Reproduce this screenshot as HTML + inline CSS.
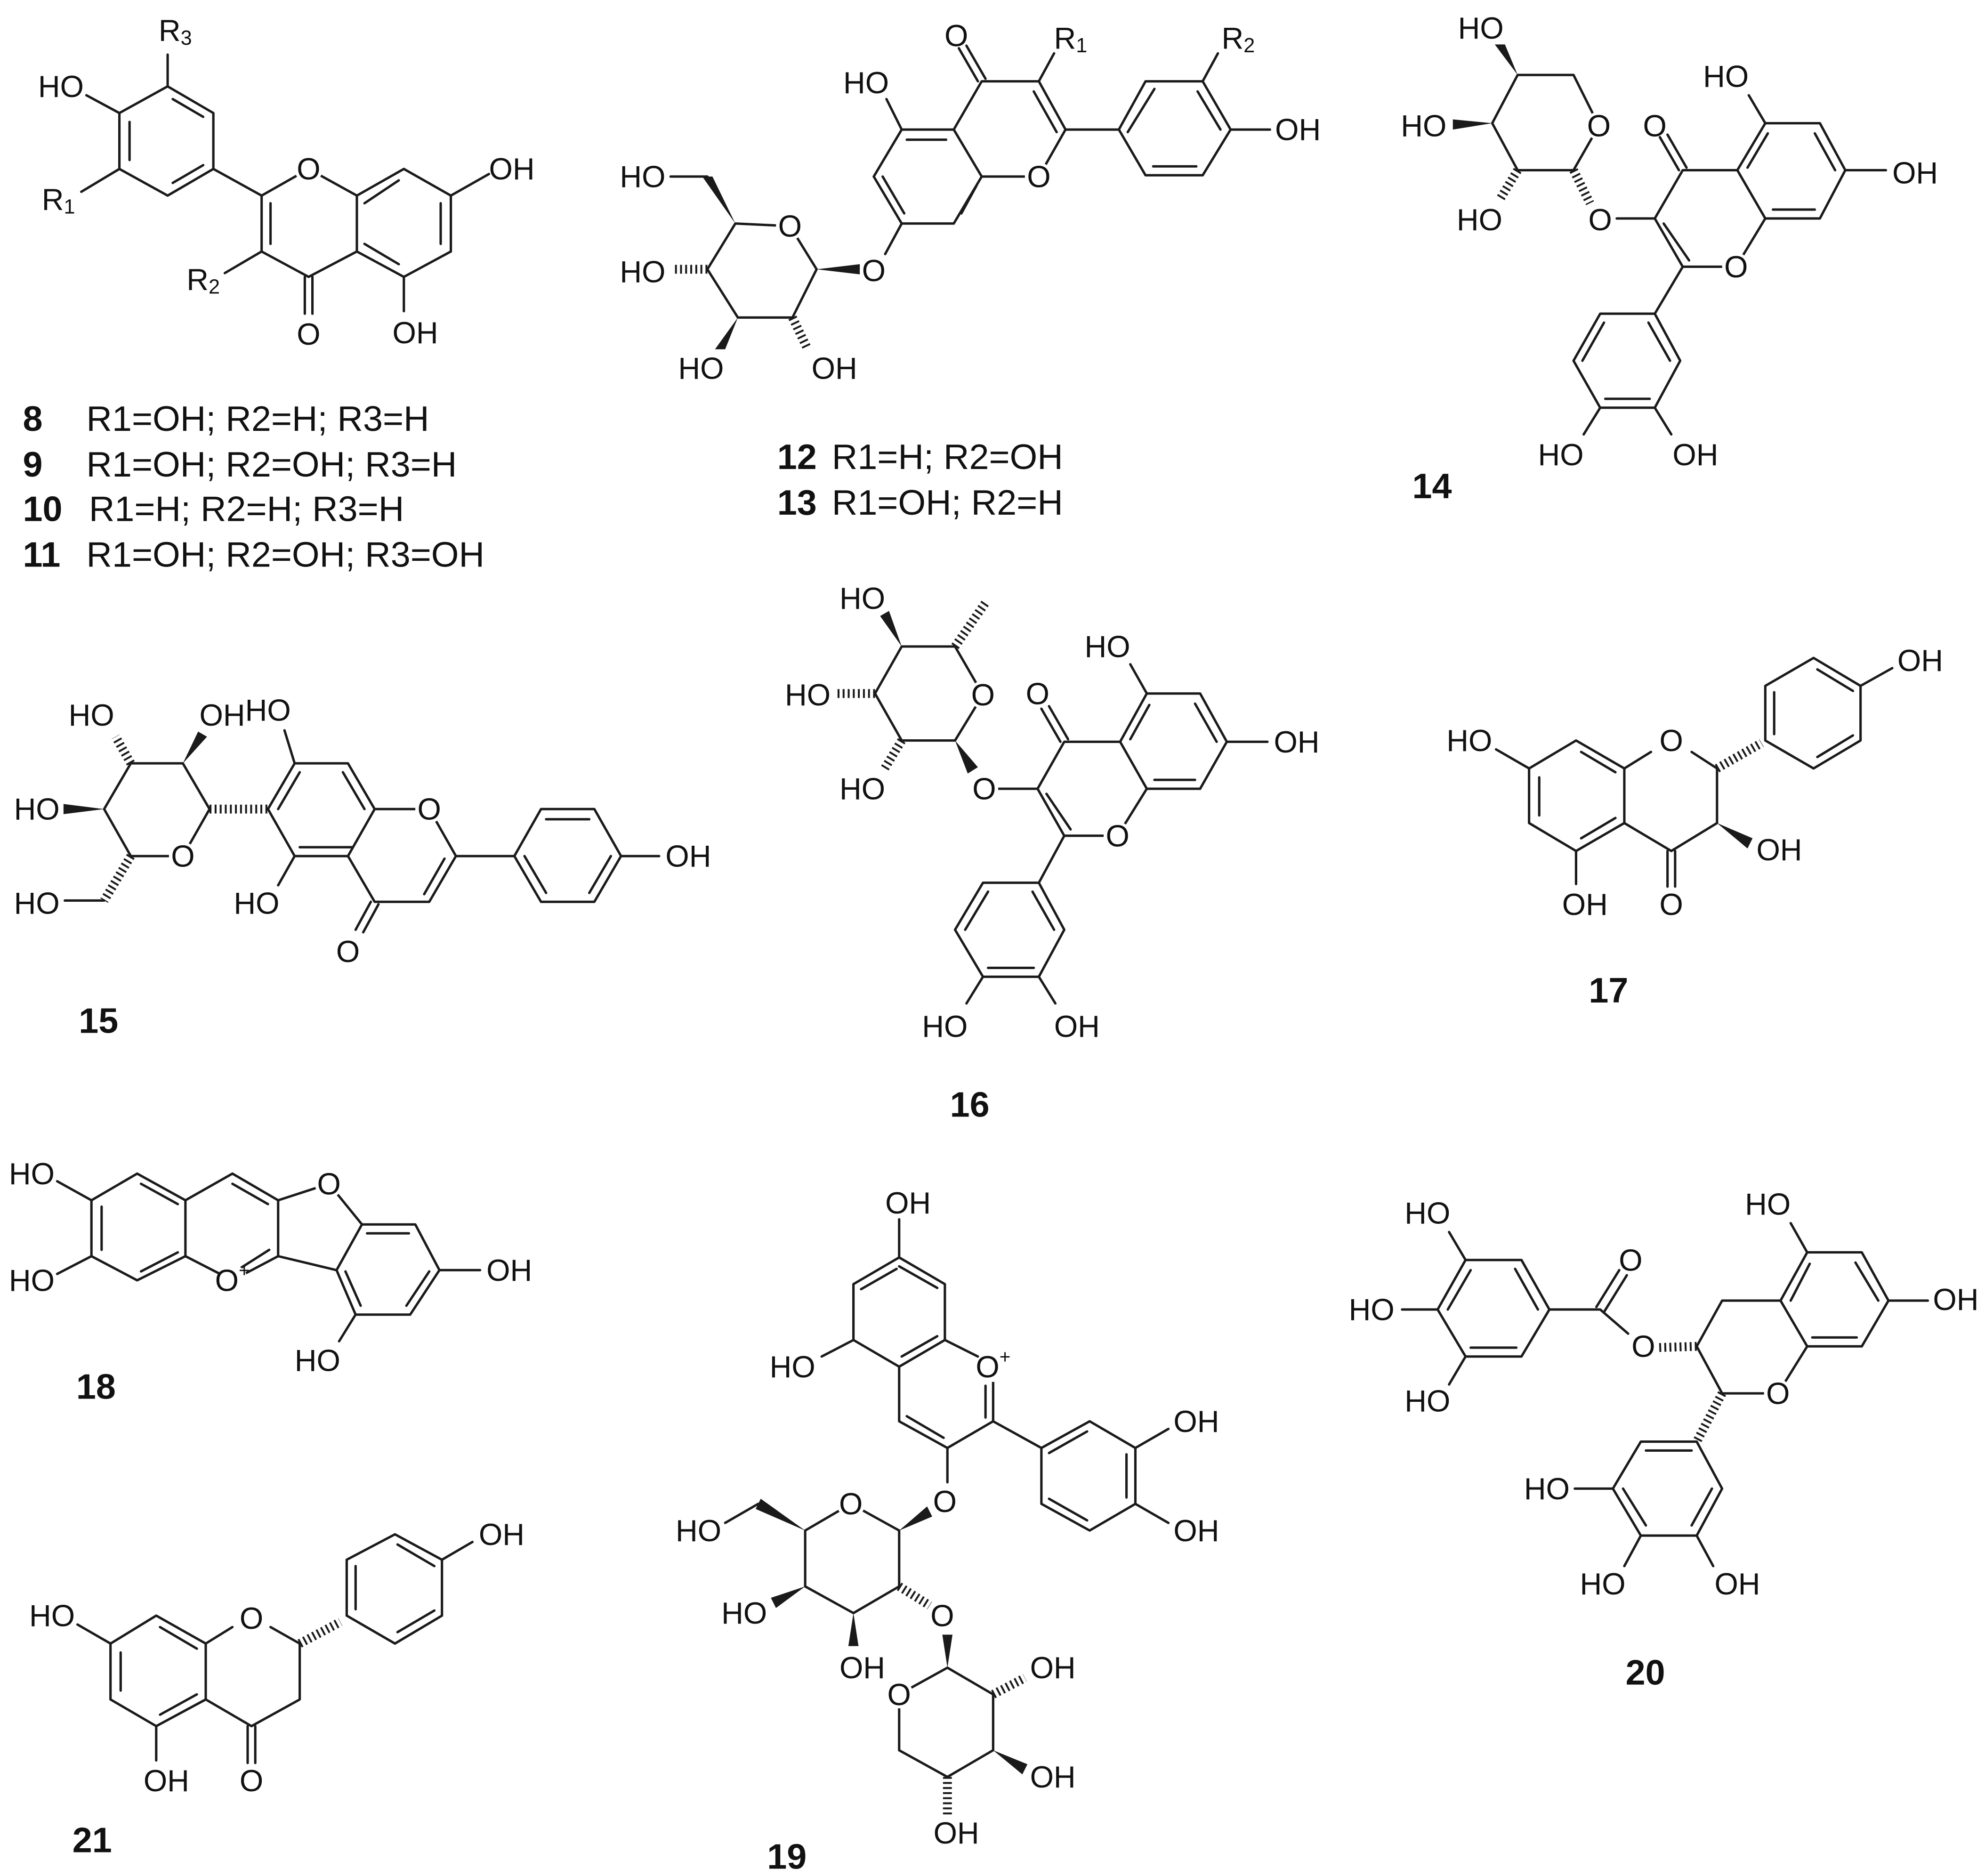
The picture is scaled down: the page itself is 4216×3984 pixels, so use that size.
<!DOCTYPE html>
<html><head><meta charset="utf-8"><style>
html,body{margin:0;padding:0;background:#fff;}
svg{display:block;}
text{font-family:"Liberation Sans",Arial,sans-serif;font-size:24px;fill:#111;text-anchor:middle;dominant-baseline:central;stroke:none;}
text.n{font-weight:bold;font-size:28px;text-anchor:start;}
text.l{font-size:28px;text-anchor:start;}
.b{fill:none;stroke:#1a1a1a;stroke-width:1.9;stroke-linejoin:round;stroke-linecap:round;}
.h{fill:none;stroke:#1a1a1a;stroke-width:7;stroke-dasharray:1.5,2.5;}
.w{fill:#1a1a1a;stroke:none;}
</style></head><body>
<svg width="4216" height="3984" viewBox="0 0 1563 1477" xmlns="http://www.w3.org/2000/svg">
<rect width="1563" height="1477" fill="#fff"/>

<!-- 8 -->
<path class="b" d="M132,68 L168,89 L168,133 L132,154 L94,133 L94,89 Z M132,68 L132,43 M68,75 L94,89 M64,151 L94,133 M168,133 L206,154
M206,154 L243,133 L281,154 L281,198 L243,218 L206,198 Z M281,154 L318,133 L355,154 L355,198 L318,218 L281,198
M355,154 L385,137 M318,218 L318,245 M240,218 L240,247 M246,218 L246,247 M206,198 L177,215
M136,78 L160,92 M102,96 L102,126 M160,130 L136,144 M213,160 L213,192 M287,160 L314,142 M347,160 L347,192 M287,192 L314,208"/>
<text x="138" y="24">R<tspan font-size="16" dy="6">3</tspan></text>
<text x="48" y="68">HO</text>
<text x="46" y="157">R<tspan font-size="16" dy="6">1</tspan></text>
<text x="403" y="133">OH</text>
<text x="327" y="262">OH</text>
<text x="243" y="263">O</text>
<text x="160" y="220">R<tspan font-size="16" dy="6">2</tspan></text>
<text class="n" x="18" y="330">8</text><text class="l" x="68" y="330">R1=OH; R2=H; R3=H</text>
<text class="n" x="18" y="366">9</text><text class="l" x="68" y="366">R1=OH; R2=OH; R3=H</text>
<text class="n" x="18" y="401">10</text><text class="l" x="70" y="401">R1=H; R2=H; R3=H</text>
<text class="n" x="18" y="437">11</text><text class="l" x="68" y="437">R1=OH; R2=OH; R3=OH</text>

<!-- 12 -->
<path class="b" d="M710,102 L751,102 L773,139 L751,176 L710,176 L688,139 Z M751,102 L773,64 L818,64 L839,102 L818,139 L773,139
M770,64 L755,38 M776,62 L761,36 M818,64 L830,42 M710,102 L698,78 M839,102 L881,102
M881,102 L902,64 L947,64 L969,102 L947,138 L902,138 Z M947,64 L959,42 M969,102 L1000,102
M710,176 L697,200 M643,212 L622,178 L579,176 L557,212 L581,250 L624,250 Z M557,139 L528,139
M714,110 L745,110 M695,139 L712,168 M757,168 L769,146 M832,104 L814,72 M909,70 L888,104 M943,72 L961,102 M908,131 L942,131"/>
<polygon class="w" points="643,212 677,208 677,216"/>
<polygon class="w" points="579,176 553,139 561,139"/>
<polygon class="w" points="581,250 563,275 571,275"/>
<path class="h" d="M557,212 L530,212 M624,250 L636,275"/>
<text x="753" y="28">O</text>
<text x="843" y="30">R<tspan font-size="16" dy="6">1</tspan></text>
<text x="682" y="65">HO</text>
<text x="975" y="30">R<tspan font-size="16" dy="6">2</tspan></text>
<text x="1022" y="102">OH</text>
<text x="506" y="139">HO</text>
<text x="506" y="214">HO</text>
<text x="552" y="290">HO</text>
<text x="657" y="290">OH</text>
<text class="n" x="612" y="360">12</text><text class="l" x="655" y="360">R1=H; R2=OH</text>
<text class="n" x="612" y="396">13</text><text class="l" x="655" y="396">R1=OH; R2=H</text>

<!-- 14 -->
<path class="b" d="M1195,59 L1239,59 L1259,99 L1239,134 L1195,134 L1175,97 Z
M1273,172 L1303,172 M1303,172 L1325,134 L1368,134 L1390,172 L1367,210 L1325,210 Z
M1322,134 L1307,108 M1328,132 L1313,106 M1368,134 L1390,97 L1433,97 L1453,134 L1433,172 L1390,172
M1390,97 L1377,75 M1453,134 L1485,134 M1325,210 L1303,247
M1303,247 L1323,284 L1303,321 L1260,321 L1239,284 L1260,247 Z M1303,321 L1316,342 M1260,321 L1247,342
M1310,176 L1330,205 M1376,132 L1392,105 M1429,105 L1445,134 M1396,165 L1429,165 M1298,254 L1315,284 M1264,314 L1299,314 M1246,284 L1263,254"/>
<polygon class="w" points="1195,59 1177,35 1185,35"/>
<polygon class="w" points="1175,97 1144,94 1144,102"/>
<path class="h" d="M1195,134 L1181,157 M1239,134 L1252,160"/>
<text x="1166" y="22">HO</text>
<text x="1121" y="99">HO</text>
<text x="1165" y="173">HO</text>
<text x="1303" y="99">O</text>
<text x="1359" y="60">HO</text>
<text x="1508" y="136">OH</text>
<text x="1335" y="358">OH</text>
<text x="1229" y="358">HO</text>
<text class="n" x="1112" y="383">14</text>

<!-- 15 -->
<path class="b" d="M165,637 L144,674 L103,674 L82,637 L103,601 L144,601 Z
M211,637 L232,601 L274,601 L295,637 L274,674 L232,674 Z M295,637 L338,637 L359,674 L338,710 L295,710 L274,674
M292,710 L280,732 M298,712 L286,734 M359,674 L405,674
M405,674 L426,637 L468,637 L489,674 L468,710 L426,710 Z M489,674 L519,674
M232,601 L224,575 M232,674 L219,697 M82,709 L51,709
M219,637 L236,608 M270,608 L287,637 M278,667 L236,667 M350,676 L334,704 M430,645 L464,645 M481,674 L464,703 M430,703 L413,674"/>
<path class="h" d="M165,637 L211,637 M103,601 L91,580 M103,674 L82,709"/>
<polygon class="w" points="144,601 156,576 163,580"/>
<polygon class="w" points="82,637 50,633 50,641"/>
<text x="175" y="563">OH</text>
<text x="72" y="563">HO</text>
<text x="29" y="637">HO</text>
<text x="29" y="711">HO</text>
<text x="211" y="559">HO</text>
<text x="202" y="711">HO</text>
<text x="274" y="749">O</text>
<text x="542" y="674">OH</text>
<text class="n" x="62" y="804">15</text>

<!-- 16 -->
<path class="b" d="M752,509 L774,547 L752,583 L710,583 L689,546 L710,509 Z
M786,621 L817,621 M817,621 L838,584 L882,584 L903,621 L880,658 L838,658 Z
M835,584 L820,558 M841,582 L826,556 M882,584 L903,546 L945,546 L966,584 L945,621 L903,621
M903,546 L890,523 M966,584 L998,584 M838,658 L818,695
M818,695 L838,732 L818,769 L774,769 L752,732 L774,695 Z M818,769 L831,790 M774,769 L761,790
M824,625 L843,653 M890,582 L905,555 M941,554 L958,584 M909,614 L941,614 M813,702 L830,732 M778,762 L814,762 M760,732 L778,702"/>
<path class="h" d="M752,509 L777,473 M689,546 L658,546 M710,583 L696,606"/>
<polygon class="w" points="710,509 693,485 700,481"/>
<polygon class="w" points="752,583 762,609 770,604"/>
<text x="679" y="471">HO</text>
<text x="636" y="547">HO</text>
<text x="679" y="621">HO</text>
<text x="817" y="546">O</text>
<text x="872" y="509">HO</text>
<text x="1021" y="584">OH</text>
<text x="848" y="808">OH</text>
<text x="744" y="808">HO</text>
<text class="n" x="748" y="870">16</text>

<!-- 17 -->
<path class="b" d="M1204,605 L1241,583 L1279,605 L1279,648 L1241,670 L1204,648 Z M1204,605 L1178,590
M1279,605 L1300,592 M1332,592 L1352,605 L1352,648 L1316,670 L1279,648 M1313,670 L1313,698 M1319,670 L1319,698
M1241,670 L1241,696
M1390,583 L1390,540 L1428,518 L1465,540 L1465,583 L1428,605 Z M1465,540 L1490,526
M1212,612 L1212,642 M1245,592 L1272,608 M1272,644 L1245,660 M1397,545 L1397,578 M1431,527 L1459,544 M1459,579 L1431,596"/>
<path class="h" d="M1352,605 L1387,585"/>
<polygon class="w" points="1352,648 1380,660 1376,668"/>
<text x="1157" y="583">HO</text>
<text x="1248" y="712">OH</text>
<text x="1316" y="712">O</text>
<text x="1401" y="669">OH</text>
<text x="1512" y="520">OH</text>
<text class="n" x="1251" y="780">17</text>

<!-- 18 -->
<path class="b" d="M72,945 L108,924 L146,945 L146,989 L108,1008 L72,989 Z M72,945 L45,930 M72,989 L45,1003
M146,945 L183,924 L219,945 L219,989 L183,1008 L146,989 M219,945 L259,932 L285,964 L265,1000 L219,989
M285,964 L327,964 L346,1000 L323,1035 L280,1035 L265,1000 M280,1035 L267,1056 M346,1000 L378,1000
M80,950 L80,984 M111,932 L140,948 M140,986 L111,1001 M183,932 L211,948 M212,984 L190,998 M289,971 L322,971 M338,1001 L320,1028 M284,1028 L272,1001"/>
<text x="25" y="924">HO</text>
<text x="25" y="1008">HO</text>
<text x="401" y="1000">OH</text>
<text x="250" y="1071">HO</text>
<text class="n" x="60" y="1092">18</text>

<!-- 19 -->
<path class="b" d="M708,990 L744,1011 L744,1055 L708,1076 L672,1055 L672,1011 Z M708,990 L708,960 M672,1055 L647,1068
M744,1055 L770,1068 M782,1086 L782,1119 L746,1140 L708,1119 L708,1076
M782,1119 L820,1140 M820,1140 L858,1119 L894,1140 L894,1184 L858,1205 L820,1184 Z M894,1140 L920,1125 M894,1184 L920,1199
M746,1140 L746,1167
M708,1205 L670,1184 L634,1205 L634,1249 L672,1270 L708,1249 Z M597,1184 L571,1199
M746,1313 L708,1334 L708,1378 L746,1399 L782,1378 L782,1334 Z
M708,997 L738,1014 M678,1015 L706,999 M738,1052 L710,1068 M776,1091 L776,1116 M714,1115 L743,1132
M826,1144 L856,1127 M887,1145 L887,1179 M856,1197 L826,1180"/>
<polygon class="w" points="708,1205 730,1186 734,1194"/>
<polygon class="w" points="634,1205 595,1188 599,1180"/>
<polygon class="w" points="634,1249 607,1258 611,1266"/>
<polygon class="w" points="672,1270 668,1296 676,1296"/>
<polygon class="w" points="746,1313 742,1287 750,1287"/>
<polygon class="w" points="782,1378 805,1397 809,1389"/>
<path class="h" d="M708,1249 L732,1264 M746,1399 L746,1431 M782,1334 L807,1321"/>
<text x="715" y="947">OH</text>
<text x="624" y="1076">HO</text>
<text x="942" y="1119">OH</text>
<text x="942" y="1205">OH</text>
<text x="550" y="1205">HO</text>
<text x="586" y="1270">HO</text>
<text x="679" y="1313">OH</text>
<text x="829" y="1313">OH</text>
<text x="829" y="1399">OH</text>
<text x="753" y="1443">OH</text>
<text class="n" x="604" y="1462">19</text>

<!-- 20 -->
<path class="b" d="M1220,1031 L1198,992 L1154,992 L1132,1031 L1154,1068 L1198,1068 Z M1154,992 L1141,970 M1132,1031 L1104,1031 M1154,1068 L1141,1090
M1220,1031 L1260,1031 M1257,1029 L1275,1000 M1263,1033 L1281,1004 M1260,1031 L1282,1050
M1336,1060 L1356,1024 L1402,1024 L1423,1060 L1400,1097 L1356,1097 Z M1402,1024 L1423,986 L1466,986 L1487,1024 L1466,1060 L1423,1060
M1423,986 L1410,963 M1487,1024 L1518,1024
M1336,1135 L1356,1172 L1336,1209 L1292,1209 L1270,1172 L1292,1135 Z M1270,1172 L1240,1172 M1292,1209 L1279,1233 M1336,1209 L1349,1233
M1193,999 L1211,1031 M1158,1000 L1140,1031 M1158,1061 L1194,1061 M1410,1024 L1425,995 M1461,994 L1479,1024 M1427,1053 L1462,1053
M1296,1142 L1332,1142 M1348,1172 L1332,1201 M1296,1201 L1278,1172"/>
<path class="h" d="M1336,1060 L1304,1061 M1356,1097 L1336,1135"/>
<text x="1124" y="955">HO</text>
<text x="1080" y="1031">HO</text>
<text x="1124" y="1103">HO</text>
<text x="1284" y="992">O</text>
<text x="1392" y="948">HO</text>
<text x="1540" y="1023">OH</text>
<text x="1218" y="1172">HO</text>
<text x="1262" y="1247">HO</text>
<text x="1368" y="1247">OH</text>
<text class="n" x="1280" y="1317">20</text>

<!-- 21 -->
<path class="b" d="M87,1294 L123,1272 L162,1294 L162,1338 L123,1359 L87,1338 Z M87,1294 L61,1279
M162,1294 L183,1281 M213,1281 L236,1294 L236,1338 L198,1359 L162,1338 M195,1359 L195,1388 M201,1359 L201,1388
M123,1359 L123,1386
M273,1272 L273,1228 L311,1208 L348,1228 L348,1272 L311,1294 Z M348,1228 L372,1214
M95,1301 L95,1331 M126,1281 L155,1298 M155,1334 L126,1350 M280,1233 L280,1267 M313,1216 L342,1233 M342,1268 L313,1285"/>
<path class="h" d="M236,1294 L268,1277"/>
<text x="41" y="1272">HO</text>
<text x="131" y="1402">OH</text>
<text x="198" y="1402">O</text>
<text x="395" y="1208">OH</text>
<text class="n" x="57" y="1449">21</text>

<!-- in-ring heteroatom labels with white masks -->
<g fill="#fff">
<circle cx="243" cy="133" r="11"/><circle cx="818" cy="139" r="11"/><circle cx="622" cy="178" r="11"/><circle cx="688" cy="213" r="11"/>
<circle cx="1259" cy="99" r="11"/><circle cx="1260" cy="173" r="11"/><circle cx="1367" cy="210" r="11"/>
<circle cx="144" cy="674" r="11"/><circle cx="338" cy="637" r="11"/>
<circle cx="774" cy="547" r="11"/><circle cx="775" cy="621" r="11"/><circle cx="880" cy="658" r="11"/>
<circle cx="1316" cy="583" r="11"/>
<circle cx="183" cy="1008" r="12"/><circle cx="259" cy="932" r="11"/>
<circle cx="782" cy="1076" r="12"/><circle cx="744" cy="1182" r="11"/><circle cx="670" cy="1184" r="11"/><circle cx="742" cy="1272" r="11"/><circle cx="708" cy="1334" r="11"/>
<circle cx="1294" cy="1060" r="11"/><circle cx="1400" cy="1097" r="11"/>
<circle cx="198" cy="1274" r="11"/>
</g>
<text x="243" y="133">O</text><text x="818" y="139">O</text><text x="622" y="178">O</text><text x="688" y="213">O</text>
<text x="1259" y="99">O</text><text x="1260" y="173">O</text><text x="1367" y="210">O</text>
<text x="144" y="674">O</text><text x="338" y="637">O</text>
<text x="774" y="547">O</text><text x="775" y="621">O</text><text x="880" y="658">O</text>
<text x="1316" y="583">O</text>
<text x="183" y="1008">O<tspan font-size="15" dy="-8">+</tspan></text><text x="259" y="932">O</text>
<text x="782" y="1076">O<tspan font-size="15" dy="-8">+</tspan></text><text x="744" y="1182">O</text><text x="670" y="1184">O</text><text x="742" y="1272">O</text><text x="708" y="1334">O</text>
<text x="1294" y="1060">O</text><text x="1400" y="1097">O</text>
<text x="198" y="1274">O</text>
</svg>
</body></html>
